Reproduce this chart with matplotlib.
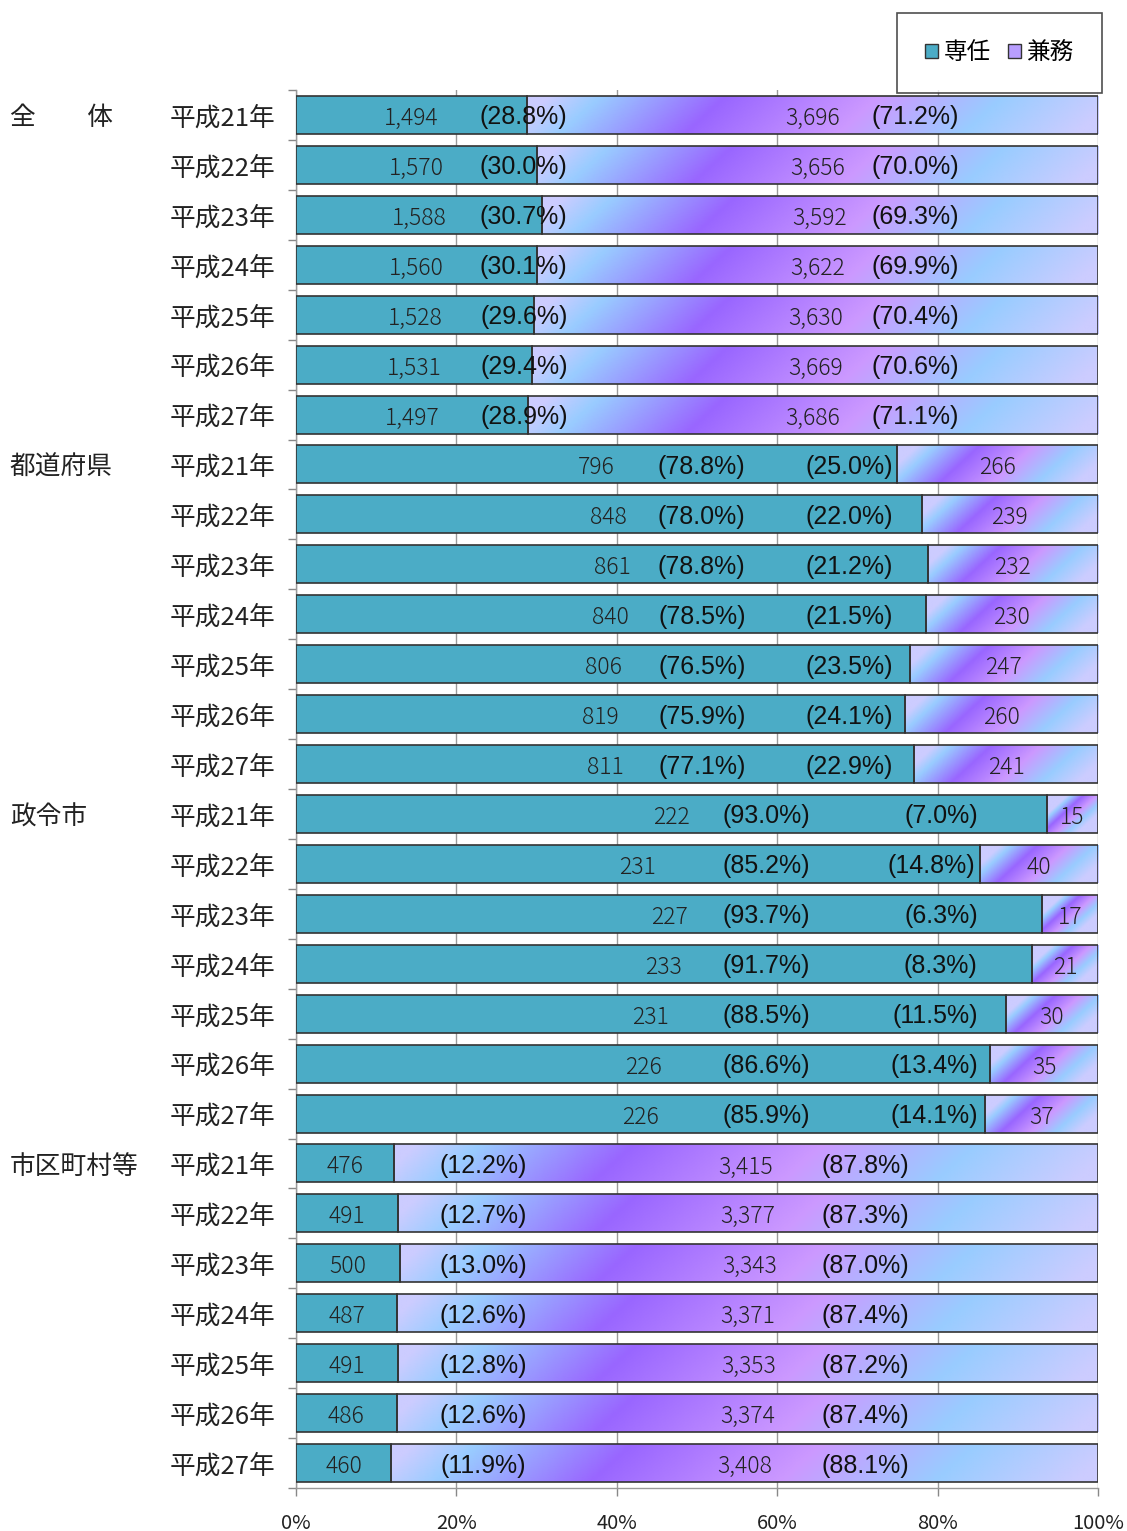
import numpy as np
import matplotlib
matplotlib.use("Agg")
import matplotlib.pyplot as plt
from matplotlib.patches import Patch
from matplotlib.colors import LinearSegmentedColormap

plt.rcParams['font.family'] = ['Noto Sans CJK JP', 'DejaVu Sans']

groups = ['全　　体', '都道府県', '政令市', '市区町村等']
years = ['平成21年', '平成22年', '平成23年', '平成24年', '平成25年', '平成26年', '平成27年']

# 専任 / 兼務 counts per group, H21..H27
senmu = [
    [1494, 1570, 1588, 1560, 1528, 1531, 1497],
    [796, 848, 861, 840, 806, 819, 811],
    [222, 231, 227, 233, 231, 226, 226],
    [476, 491, 500, 487, 491, 486, 460],
]
kenmu = [
    [3696, 3656, 3592, 3622, 3630, 3669, 3686],
    [266, 239, 232, 230, 247, 260, 241],
    [15, 40, 17, 21, 30, 35, 37],
    [3415, 3377, 3343, 3371, 3353, 3374, 3408],
]
# percentage labels as published
senmu_pct = [
    ['28.8', '30.0', '30.7', '30.1', '29.6', '29.4', '28.9'],
    ['78.8', '78.0', '78.8', '78.5', '76.5', '75.9', '77.1'],
    ['93.0', '85.2', '93.7', '91.7', '88.5', '86.6', '85.9'],
    ['12.2', '12.7', '13.0', '12.6', '12.8', '12.6', '11.9'],
]
kenmu_pct = [
    ['71.2', '70.0', '69.3', '69.9', '70.4', '70.6', '71.1'],
    ['25.0', '22.0', '21.2', '21.5', '23.5', '24.1', '22.9'],
    ['7.0', '14.8', '6.3', '8.3', '11.5', '13.4', '14.1'],
    ['87.8', '87.3', '87.0', '87.4', '87.2', '87.4', '88.1'],
]

TEAL = '#4BACC6'
EDGE = '#333333'
grad = LinearSegmentedColormap.from_list('kenmu', [
    (0.00, (0.80, 0.80, 1.00)),
    (0.09, (0.60, 0.80, 1.00)),
    (0.31, (0.60, 0.40, 1.00)),
    (0.58, (0.80, 0.60, 1.00)),
    (0.80, (0.60, 0.80, 1.00)),
    (1.00, (0.80, 0.80, 1.00)),
])

fig = plt.figure(figsize=(11.27, 15.31), dpi=100)
ax = fig.add_axes([296 / 1127, 43 / 1531, 802 / 1127, 1398 / 1531])

n_rows = len(groups) * len(years)
bar_h = 0.76
px_per_pct = 8.02

# where the percentage labels sit in each group (x in %)
pct_pos = [
    dict(s=28.4, k=77.2, k_ha='center'),
    dict(s=50.6, k=74.4, k_ha='right'),
    dict(s=58.6, k=85.0, k_ha='right'),
    dict(s=23.3, k=71.0, k_ha='center'),
]

count_font = dict(fontsize=16.5, color='#222222', ha='center', va='center', fontweight='light')
pct_font = dict(fontsize=18, color='#111111', va='center', family='Liberation Sans')
dy_text = 0.07

row = 0
for g in range(len(groups)):
    for j in range(len(years)):
        s, k = senmu[g][j], kenmu[g][j]
        total = s + k
        sp = s / total * 100
        kp = 100 - sp
        y = row

        ax.barh(y, sp, height=bar_h, color=TEAL, edgecolor=EDGE, linewidth=1.2, zorder=3)

        # diagonal gradient fill for 兼務
        slant = 40 / (kp * px_per_pct)
        u = np.linspace(0, 1, 300)[None, :]
        v = np.linspace(0, 1, 30)[:, None]
        t = np.clip(u - slant * (v - 0.5), 0, 1)
        ax.imshow(grad(t), extent=(sp, 100, y + bar_h / 2, y - bar_h / 2), origin='lower',
                  aspect='auto', interpolation='bilinear', zorder=2)
        ax.barh(y, kp, left=sp, height=bar_h, facecolor='none', edgecolor=EDGE,
                linewidth=1.2, zorder=3)

        ax.text(sp / 2, y + dy_text, f'{s:,}', zorder=5, **count_font)
        ax.text(sp + kp / 2, y + dy_text, f'{k:,}', zorder=5, **count_font)

        p = pct_pos[g]
        ax.text(p['s'], y + 0.05, f'({senmu_pct[g][j]}%)', ha='center', zorder=5, **pct_font)
        kx = p['k']
        if g == 2:
            kx = min(sp - 0.6, p['k'])
        ax.text(kx, y + 0.05, f'({kenmu_pct[g][j]}%)', ha=p['k_ha'], zorder=5, **pct_font)

        # year label
        ax.text(-2.6, y + dy_text, years[j], ha='right', va='center', fontsize=18.5,
                color='#222222', clip_on=False)
        if j == 0:
            ax.text(-35.7, y + dy_text, groups[g], ha='left', va='center', fontsize=18.5,
                    color='#222222', clip_on=False)
        row += 1

ax.set_xlim(0, 100)
ax.set_ylim(n_rows - 0.5, -0.5)

ax.set_xticks(np.arange(0, 101, 20))
ax.set_xticklabels([f'{v}%' for v in range(0, 101, 20)], fontsize=14.5, color='#222222')
ax.set_yticks(np.arange(-0.5, n_rows, 1.0))
ax.set_yticklabels([])
ax.tick_params(axis='both', direction='out', length=6, color='#888888', width=1)
ax.tick_params(axis='x', pad=12)

ax.grid(axis='x', color='#999999', linewidth=1, zorder=0)
ax.set_axisbelow(True)
for side in ['top', 'right']:
    ax.spines[side].set_visible(False)
for side in ['left', 'bottom']:
    ax.spines[side].set_color('#999999')
    ax.spines[side].set_linewidth(1)

handles = [Patch(facecolor=TEAL, edgecolor=EDGE, label='専任'),
           Patch(facecolor=(0.72, 0.62, 1.0), edgecolor=EDGE, label='兼務')]
leg = fig.legend(handles=handles, loc='upper right', bbox_to_anchor=(1102 / 1127, 1 - 13 / 1531),
                 ncol=2, fontsize=17, frameon=True, fancybox=False, edgecolor='#222222',
                 handlelength=0.55, handleheight=0.55, handletextpad=0.25, columnspacing=0.7,
                 borderpad=1.2, borderaxespad=0)
leg.get_frame().set_linewidth(1.2)

fig.savefig('out.png', dpi=100)
